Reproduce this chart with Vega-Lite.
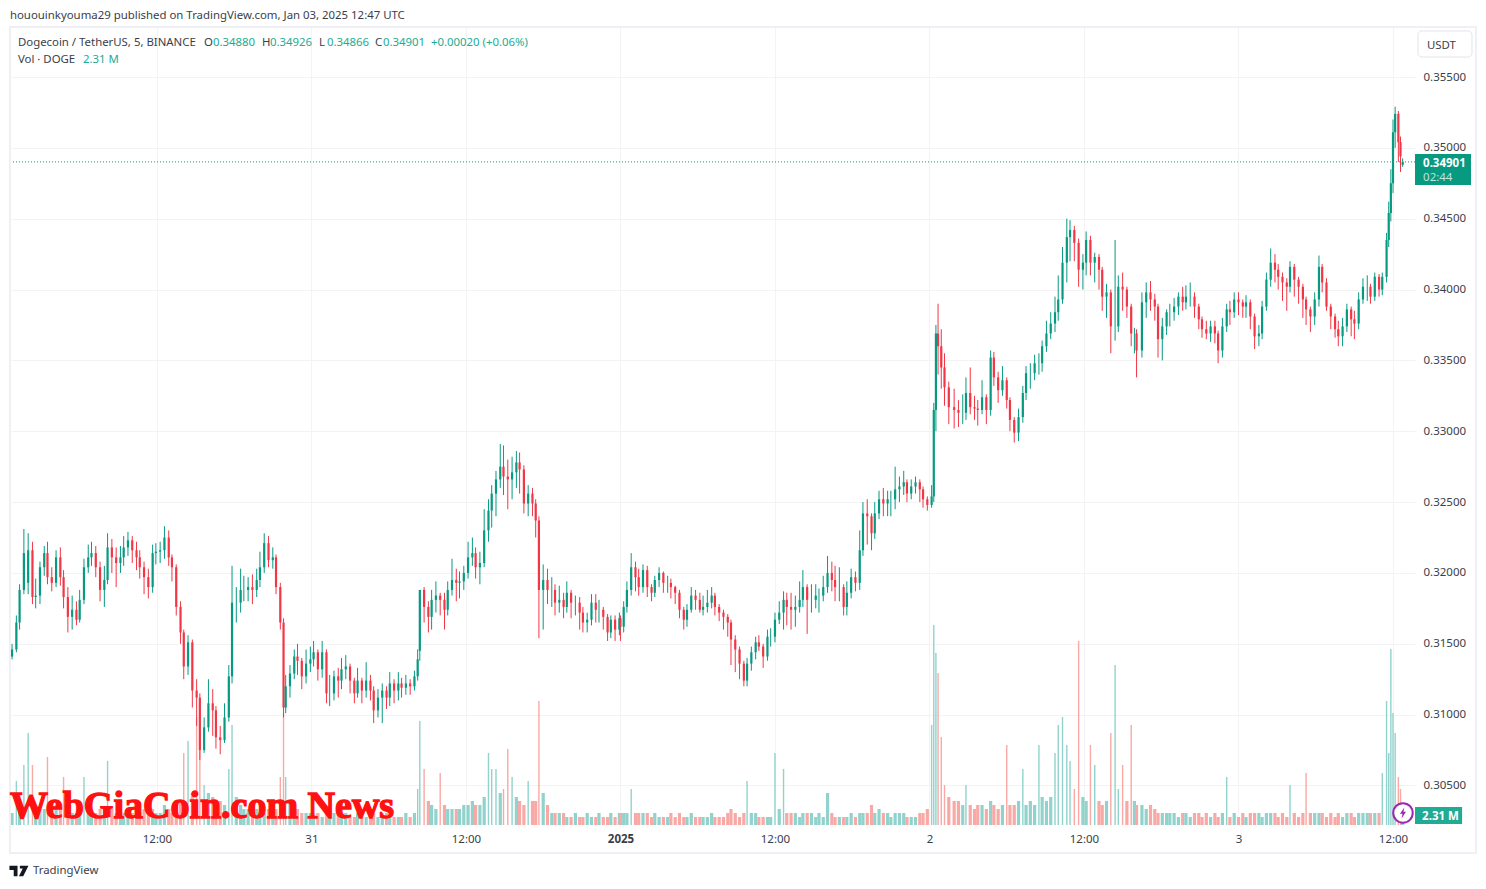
{"$schema":"https://vega.github.io/schema/vega-lite/v6.json","width":1404,"height":798,"autosize":{"type":"none"},"padding":{"left":11,"top":27,"right":71,"bottom":64},"background":"#ffffff","config":{"view":{"stroke":null},"text":{"font":"Noto Sans"}},
"datasets":{"candles":[
{"b":9,"o":0.3141,"h":0.3150,"l":0.3139,"c":0.3146,"v":3},
{"b":13,"o":0.3146,"h":0.3170,"l":0.3144,"c":0.3165,"v":11},
{"b":16,"o":0.3165,"h":0.3192,"l":0.3160,"c":0.3188,"v":6},
{"b":20,"o":0.3188,"h":0.3231,"l":0.3185,"c":0.3214,"v":15},
{"b":24,"o":0.3193,"h":0.3228,"l":0.3185,"c":0.3216,"v":23},
{"b":28,"o":0.3216,"h":0.3222,"l":0.3178,"c":0.3183,"v":15},
{"b":31,"o":0.3183,"h":0.3196,"l":0.3175,"c":0.3184,"v":5},
{"b":35,"o":0.3184,"h":0.3208,"l":0.3178,"c":0.3204,"v":4},
{"b":39,"o":0.3204,"h":0.3219,"l":0.3198,"c":0.3214,"v":4},
{"b":42,"o":0.3214,"h":0.3222,"l":0.3192,"c":0.3197,"v":17},
{"b":46,"o":0.3197,"h":0.3204,"l":0.3187,"c":0.3193,"v":4},
{"b":50,"o":0.3193,"h":0.3216,"l":0.3190,"c":0.3211,"v":5},
{"b":54,"o":0.3211,"h":0.3218,"l":0.3191,"c":0.3197,"v":4},
{"b":57,"o":0.3197,"h":0.3202,"l":0.3175,"c":0.3183,"v":12},
{"b":61,"o":0.3183,"h":0.3190,"l":0.3158,"c":0.3169,"v":5},
{"b":65,"o":0.3169,"h":0.3184,"l":0.3160,"c":0.3174,"v":3},
{"b":69,"o":0.3174,"h":0.3180,"l":0.3163,"c":0.3167,"v":3},
{"b":72,"o":0.3167,"h":0.3188,"l":0.3165,"c":0.3181,"v":3},
{"b":76,"o":0.3181,"h":0.3210,"l":0.3178,"c":0.3204,"v":12},
{"b":80,"o":0.3204,"h":0.3220,"l":0.3200,"c":0.3211,"v":4},
{"b":83,"o":0.3211,"h":0.3222,"l":0.3205,"c":0.3214,"v":4},
{"b":87,"o":0.3214,"h":0.3219,"l":0.3197,"c":0.3204,"v":3},
{"b":91,"o":0.3204,"h":0.3208,"l":0.3180,"c":0.3188,"v":4},
{"b":95,"o":0.3188,"h":0.3205,"l":0.3176,"c":0.3195,"v":4},
{"b":98,"o":0.3195,"h":0.3228,"l":0.3192,"c":0.3218,"v":16},
{"b":102,"o":0.3218,"h":0.3224,"l":0.3200,"c":0.3211,"v":4},
{"b":106,"o":0.3211,"h":0.3218,"l":0.3190,"c":0.3207,"v":3},
{"b":110,"o":0.3207,"h":0.3219,"l":0.3200,"c":0.3211,"v":4},
{"b":113,"o":0.3211,"h":0.3226,"l":0.3205,"c":0.3218,"v":3},
{"b":117,"o":0.3218,"h":0.3229,"l":0.3212,"c":0.3223,"v":4},
{"b":121,"o":0.3223,"h":0.3226,"l":0.3207,"c":0.3216,"v":3},
{"b":125,"o":0.3216,"h":0.3222,"l":0.3202,"c":0.3211,"v":4},
{"b":128,"o":0.3211,"h":0.3216,"l":0.3196,"c":0.3204,"v":3},
{"b":132,"o":0.3204,"h":0.3208,"l":0.3185,"c":0.3197,"v":4},
{"b":136,"o":0.3197,"h":0.3203,"l":0.3182,"c":0.3190,"v":3},
{"b":140,"o":0.3190,"h":0.3220,"l":0.3186,"c":0.3214,"v":4},
{"b":143,"o":0.3214,"h":0.3221,"l":0.3206,"c":0.3215,"v":3},
{"b":147,"o":0.3215,"h":0.3222,"l":0.3207,"c":0.3216,"v":3},
{"b":151,"o":0.3216,"h":0.3233,"l":0.3210,"c":0.3225,"v":5},
{"b":155,"o":0.3225,"h":0.3230,"l":0.3205,"c":0.3211,"v":4},
{"b":158,"o":0.3211,"h":0.3213,"l":0.3194,"c":0.3204,"v":3},
{"b":162,"o":0.3204,"h":0.3206,"l":0.3170,"c":0.3176,"v":5},
{"b":166,"o":0.3176,"h":0.3180,"l":0.3150,"c":0.3158,"v":6},
{"b":169,"o":0.3158,"h":0.3160,"l":0.3125,"c":0.3134,"v":18},
{"b":173,"o":0.3134,"h":0.3156,"l":0.3128,"c":0.3151,"v":21},
{"b":177,"o":0.3151,"h":0.3153,"l":0.3105,"c":0.3117,"v":8},
{"b":181,"o":0.3117,"h":0.3125,"l":0.3092,"c":0.3112,"v":27},
{"b":184,"o":0.3112,"h":0.3115,"l":0.3068,"c":0.3075,"v":23},
{"b":188,"o":0.3075,"h":0.3098,"l":0.3073,"c":0.3091,"v":10},
{"b":192,"o":0.3091,"h":0.3125,"l":0.3088,"c":0.3108,"v":8},
{"b":196,"o":0.3108,"h":0.3118,"l":0.3085,"c":0.3103,"v":7},
{"b":199,"o":0.3103,"h":0.3106,"l":0.3076,"c":0.3084,"v":6},
{"b":203,"o":0.3084,"h":0.3092,"l":0.3072,"c":0.3082,"v":6},
{"b":207,"o":0.3082,"h":0.3108,"l":0.3080,"c":0.3098,"v":5},
{"b":211,"o":0.3098,"h":0.3135,"l":0.3095,"c":0.3127,"v":14},
{"b":214,"o":0.3127,"h":0.3205,"l":0.3122,"c":0.3179,"v":25},
{"b":218,"o":0.3179,"h":0.3190,"l":0.3165,"c":0.3179,"v":7},
{"b":222,"o":0.3179,"h":0.3203,"l":0.3172,"c":0.3188,"v":5},
{"b":225,"o":0.3188,"h":0.3198,"l":0.3180,"c":0.3188,"v":4},
{"b":229,"o":0.3188,"h":0.3197,"l":0.3180,"c":0.3190,"v":4},
{"b":233,"o":0.3190,"h":0.3199,"l":0.3178,"c":0.3188,"v":4},
{"b":237,"o":0.3188,"h":0.3203,"l":0.3183,"c":0.3195,"v":4},
{"b":240,"o":0.3195,"h":0.3215,"l":0.3190,"c":0.3204,"v":3},
{"b":244,"o":0.3204,"h":0.3228,"l":0.3200,"c":0.3221,"v":3},
{"b":248,"o":0.3221,"h":0.3226,"l":0.3204,"c":0.3209,"v":4},
{"b":252,"o":0.3209,"h":0.3218,"l":0.3203,"c":0.3211,"v":3},
{"b":255,"o":0.3211,"h":0.3213,"l":0.3185,"c":0.3190,"v":4},
{"b":259,"o":0.3190,"h":0.3193,"l":0.3160,"c":0.3165,"v":12},
{"b":262,"o":0.3165,"h":0.3168,"l":0.3098,"c":0.3105,"v":28},
{"b":264,"o":0.3105,"h":0.3128,"l":0.3101,"c":0.3120,"v":12},
{"b":268,"o":0.3120,"h":0.3135,"l":0.3112,"c":0.3129,"v":6},
{"b":272,"o":0.3129,"h":0.3146,"l":0.3125,"c":0.3141,"v":5},
{"b":275,"o":0.3141,"h":0.3150,"l":0.3128,"c":0.3138,"v":4},
{"b":279,"o":0.3138,"h":0.3140,"l":0.3118,"c":0.3127,"v":3},
{"b":283,"o":0.3127,"h":0.3146,"l":0.3122,"c":0.3136,"v":3},
{"b":287,"o":0.3136,"h":0.3148,"l":0.3130,"c":0.3139,"v":3},
{"b":290,"o":0.3139,"h":0.3152,"l":0.3134,"c":0.3144,"v":3},
{"b":294,"o":0.3144,"h":0.3146,"l":0.3124,"c":0.3132,"v":3},
{"b":298,"o":0.3132,"h":0.3152,"l":0.3126,"c":0.3144,"v":2},
{"b":302,"o":0.3144,"h":0.3146,"l":0.3108,"c":0.3115,"v":3},
{"b":305,"o":0.3115,"h":0.3128,"l":0.3106,"c":0.3115,"v":4},
{"b":309,"o":0.3115,"h":0.3131,"l":0.3110,"c":0.3127,"v":3},
{"b":313,"o":0.3127,"h":0.3133,"l":0.3112,"c":0.3124,"v":3},
{"b":316,"o":0.3124,"h":0.3140,"l":0.3118,"c":0.3132,"v":2},
{"b":320,"o":0.3132,"h":0.3142,"l":0.3125,"c":0.3134,"v":3},
{"b":324,"o":0.3134,"h":0.3136,"l":0.3115,"c":0.3124,"v":2},
{"b":328,"o":0.3124,"h":0.3126,"l":0.3108,"c":0.3115,"v":2},
{"b":331,"o":0.3115,"h":0.3133,"l":0.3112,"c":0.3124,"v":3},
{"b":335,"o":0.3124,"h":0.3126,"l":0.3108,"c":0.3117,"v":2},
{"b":339,"o":0.3117,"h":0.3137,"l":0.3112,"c":0.3124,"v":2},
{"b":343,"o":0.3124,"h":0.3128,"l":0.3110,"c":0.3117,"v":3},
{"b":346,"o":0.3117,"h":0.3120,"l":0.3094,"c":0.3103,"v":3},
{"b":350,"o":0.3103,"h":0.3118,"l":0.3098,"c":0.3112,"v":2},
{"b":354,"o":0.3112,"h":0.3122,"l":0.3094,"c":0.3117,"v":3},
{"b":358,"o":0.3117,"h":0.3120,"l":0.3104,"c":0.3112,"v":3},
{"b":361,"o":0.3112,"h":0.3130,"l":0.3106,"c":0.3122,"v":2},
{"b":365,"o":0.3122,"h":0.3125,"l":0.3108,"c":0.3117,"v":2},
{"b":369,"o":0.3117,"h":0.3130,"l":0.3110,"c":0.3122,"v":2},
{"b":372,"o":0.3122,"h":0.3126,"l":0.3112,"c":0.3119,"v":2},
{"b":376,"o":0.3119,"h":0.3128,"l":0.3114,"c":0.3122,"v":3},
{"b":380,"o":0.3122,"h":0.3125,"l":0.3114,"c":0.3120,"v":2},
{"b":384,"o":0.3120,"h":0.3131,"l":0.3117,"c":0.3127,"v":3},
{"b":387,"o":0.3127,"h":0.3146,"l":0.3124,"c":0.3139,"v":9},
{"b":389,"o":0.3145,"h":0.3188,"l":0.3138,"c":0.3188,"v":26},
{"b":393,"o":0.3188,"h":0.3190,"l":0.3165,"c":0.3176,"v":14},
{"b":397,"o":0.3176,"h":0.3180,"l":0.3158,"c":0.3169,"v":6},
{"b":400,"o":0.3169,"h":0.3188,"l":0.3160,"c":0.3181,"v":5},
{"b":404,"o":0.3181,"h":0.3194,"l":0.3172,"c":0.3184,"v":4},
{"b":408,"o":0.3184,"h":0.3186,"l":0.3170,"c":0.3181,"v":13},
{"b":412,"o":0.3181,"h":0.3186,"l":0.3160,"c":0.3174,"v":5},
{"b":415,"o":0.3174,"h":0.3194,"l":0.3170,"c":0.3188,"v":4},
{"b":419,"o":0.3188,"h":0.3210,"l":0.3184,"c":0.3195,"v":4},
{"b":423,"o":0.3195,"h":0.3203,"l":0.3180,"c":0.3193,"v":4},
{"b":426,"o":0.3193,"h":0.3201,"l":0.3182,"c":0.3194,"v":4},
{"b":430,"o":0.3194,"h":0.3205,"l":0.3188,"c":0.3200,"v":5},
{"b":434,"o":0.3200,"h":0.3222,"l":0.3196,"c":0.3211,"v":5},
{"b":438,"o":0.3211,"h":0.3225,"l":0.3205,"c":0.3214,"v":6},
{"b":441,"o":0.3214,"h":0.3218,"l":0.3196,"c":0.3204,"v":5},
{"b":445,"o":0.3204,"h":0.3215,"l":0.3192,"c":0.3207,"v":5},
{"b":449,"o":0.3207,"h":0.3245,"l":0.3204,"c":0.3230,"v":7},
{"b":453,"o":0.3230,"h":0.3252,"l":0.3222,"c":0.3244,"v":18},
{"b":456,"o":0.3244,"h":0.3262,"l":0.3232,"c":0.3256,"v":14},
{"b":460,"o":0.3256,"h":0.3272,"l":0.3240,"c":0.3266,"v":14},
{"b":464,"o":0.3266,"h":0.3291,"l":0.3260,"c":0.3275,"v":8},
{"b":467,"o":0.3275,"h":0.3290,"l":0.3255,"c":0.3268,"v":9},
{"b":471,"o":0.3268,"h":0.3280,"l":0.3245,"c":0.3266,"v":19},
{"b":475,"o":0.3266,"h":0.3282,"l":0.3252,"c":0.3271,"v":12},
{"b":479,"o":0.3271,"h":0.3286,"l":0.3260,"c":0.3278,"v":7},
{"b":482,"o":0.3278,"h":0.3285,"l":0.3256,"c":0.3273,"v":6},
{"b":486,"o":0.3273,"h":0.3276,"l":0.3242,"c":0.3249,"v":5},
{"b":490,"o":0.3249,"h":0.3262,"l":0.3240,"c":0.3256,"v":11},
{"b":494,"o":0.3256,"h":0.3260,"l":0.3240,"c":0.3249,"v":6},
{"b":497,"o":0.3249,"h":0.3252,"l":0.3225,"c":0.3237,"v":6},
{"b":500,"o":0.3237,"h":0.3240,"l":0.3154,"c":0.3188,"v":31},
{"b":504,"o":0.3188,"h":0.3206,"l":0.3160,"c":0.3195,"v":8},
{"b":508,"o":0.3195,"h":0.3203,"l":0.3178,"c":0.3188,"v":5},
{"b":512,"o":0.3188,"h":0.3197,"l":0.3176,"c":0.3188,"v":3},
{"b":515,"o":0.3188,"h":0.3192,"l":0.3170,"c":0.3179,"v":3},
{"b":519,"o":0.3179,"h":0.3191,"l":0.3172,"c":0.3181,"v":3},
{"b":523,"o":0.3181,"h":0.3186,"l":0.3168,"c":0.3176,"v":3},
{"b":526,"o":0.3176,"h":0.3194,"l":0.3172,"c":0.3186,"v":2},
{"b":530,"o":0.3186,"h":0.3188,"l":0.3168,"c":0.3179,"v":2},
{"b":534,"o":0.3179,"h":0.3184,"l":0.3170,"c":0.3179,"v":3},
{"b":538,"o":0.3179,"h":0.3183,"l":0.3160,"c":0.3172,"v":2},
{"b":541,"o":0.3172,"h":0.3176,"l":0.3158,"c":0.3165,"v":2},
{"b":545,"o":0.3165,"h":0.3172,"l":0.3158,"c":0.3167,"v":3},
{"b":549,"o":0.3167,"h":0.3185,"l":0.3163,"c":0.3179,"v":2},
{"b":553,"o":0.3179,"h":0.3185,"l":0.3165,"c":0.3174,"v":2},
{"b":556,"o":0.3174,"h":0.3181,"l":0.3165,"c":0.3174,"v":3},
{"b":560,"o":0.3174,"h":0.3176,"l":0.3160,"c":0.3169,"v":2},
{"b":564,"o":0.3169,"h":0.3171,"l":0.3152,"c":0.3158,"v":2},
{"b":567,"o":0.3158,"h":0.3170,"l":0.3154,"c":0.3167,"v":3},
{"b":571,"o":0.3167,"h":0.3170,"l":0.3152,"c":0.3160,"v":2},
{"b":575,"o":0.3160,"h":0.3172,"l":0.3156,"c":0.3168,"v":3},
{"b":576,"o":0.3168,"h":0.3170,"l":0.3152,"c":0.3162,"v":3},
{"b":579,"o":0.3162,"h":0.3180,"l":0.3158,"c":0.3176,"v":3},
{"b":582,"o":0.3176,"h":0.3194,"l":0.3172,"c":0.3188,"v":3},
{"b":586,"o":0.3188,"h":0.3214,"l":0.3184,"c":0.3204,"v":9},
{"b":590,"o":0.3204,"h":0.3208,"l":0.3187,"c":0.3197,"v":3},
{"b":593,"o":0.3197,"h":0.3203,"l":0.3184,"c":0.3190,"v":3},
{"b":597,"o":0.3190,"h":0.3206,"l":0.3186,"c":0.3202,"v":3},
{"b":601,"o":0.3202,"h":0.3205,"l":0.3183,"c":0.3190,"v":3},
{"b":605,"o":0.3190,"h":0.3192,"l":0.3180,"c":0.3186,"v":2},
{"b":608,"o":0.3186,"h":0.3198,"l":0.3183,"c":0.3195,"v":3},
{"b":612,"o":0.3195,"h":0.3204,"l":0.3190,"c":0.3200,"v":2},
{"b":616,"o":0.3200,"h":0.3201,"l":0.3186,"c":0.3193,"v":2},
{"b":620,"o":0.3193,"h":0.3198,"l":0.3186,"c":0.3193,"v":2},
{"b":623,"o":0.3193,"h":0.3196,"l":0.3182,"c":0.3190,"v":3},
{"b":627,"o":0.3190,"h":0.3191,"l":0.3178,"c":0.3186,"v":2},
{"b":631,"o":0.3186,"h":0.3188,"l":0.3168,"c":0.3174,"v":3},
{"b":635,"o":0.3174,"h":0.3176,"l":0.3160,"c":0.3167,"v":2},
{"b":638,"o":0.3167,"h":0.3178,"l":0.3162,"c":0.3174,"v":2},
{"b":642,"o":0.3174,"h":0.3190,"l":0.3172,"c":0.3184,"v":3},
{"b":646,"o":0.3184,"h":0.3188,"l":0.3174,"c":0.3181,"v":2},
{"b":650,"o":0.3181,"h":0.3186,"l":0.3172,"c":0.3174,"v":2},
{"b":653,"o":0.3174,"h":0.3184,"l":0.3170,"c":0.3176,"v":2},
{"b":657,"o":0.3176,"h":0.3188,"l":0.3172,"c":0.3179,"v":2},
{"b":661,"o":0.3179,"h":0.3190,"l":0.3175,"c":0.3184,"v":3},
{"b":664,"o":0.3184,"h":0.3186,"l":0.3170,"c":0.3176,"v":2},
{"b":668,"o":0.3176,"h":0.3178,"l":0.3166,"c":0.3172,"v":2},
{"b":672,"o":0.3172,"h":0.3174,"l":0.3160,"c":0.3169,"v":2},
{"b":676,"o":0.3169,"h":0.3171,"l":0.3155,"c":0.3165,"v":3},
{"b":679,"o":0.3165,"h":0.3167,"l":0.3135,"c":0.3153,"v":4},
{"b":683,"o":0.3153,"h":0.3156,"l":0.3130,"c":0.3146,"v":3},
{"b":687,"o":0.3146,"h":0.3148,"l":0.3125,"c":0.3136,"v":2},
{"b":691,"o":0.3136,"h":0.3138,"l":0.3120,"c":0.3124,"v":3},
{"b":694,"o":0.3124,"h":0.3140,"l":0.3120,"c":0.3136,"v":11},
{"b":698,"o":0.3136,"h":0.3148,"l":0.3131,"c":0.3144,"v":3},
{"b":702,"o":0.3144,"h":0.3155,"l":0.3139,"c":0.3151,"v":3},
{"b":705,"o":0.3151,"h":0.3156,"l":0.3145,"c":0.3148,"v":2},
{"b":709,"o":0.3148,"h":0.3150,"l":0.3133,"c":0.3141,"v":2},
{"b":713,"o":0.3141,"h":0.3160,"l":0.3138,"c":0.3155,"v":2},
{"b":716,"o":0.3155,"h":0.3161,"l":0.3148,"c":0.3155,"v":2},
{"b":720,"o":0.3155,"h":0.3172,"l":0.3151,"c":0.3167,"v":18},
{"b":724,"o":0.3167,"h":0.3180,"l":0.3164,"c":0.3172,"v":4},
{"b":728,"o":0.3172,"h":0.3187,"l":0.3160,"c":0.3181,"v":14},
{"b":731,"o":0.3181,"h":0.3186,"l":0.3163,"c":0.3176,"v":3},
{"b":735,"o":0.3176,"h":0.3186,"l":0.3160,"c":0.3174,"v":3},
{"b":739,"o":0.3174,"h":0.3184,"l":0.3162,"c":0.3176,"v":3},
{"b":743,"o":0.3176,"h":0.3194,"l":0.3172,"c":0.3181,"v":2},
{"b":746,"o":0.3181,"h":0.3202,"l":0.3176,"c":0.3190,"v":3},
{"b":750,"o":0.3190,"h":0.3192,"l":0.3157,"c":0.3181,"v":3},
{"b":754,"o":0.3181,"h":0.3192,"l":0.3172,"c":0.3181,"v":3},
{"b":758,"o":0.3181,"h":0.3192,"l":0.3175,"c":0.3184,"v":2},
{"b":761,"o":0.3184,"h":0.3189,"l":0.3172,"c":0.3184,"v":3},
{"b":765,"o":0.3184,"h":0.3198,"l":0.3180,"c":0.3190,"v":2},
{"b":769,"o":0.3190,"h":0.3212,"l":0.3186,"c":0.3200,"v":8},
{"b":773,"o":0.3200,"h":0.3208,"l":0.3187,"c":0.3195,"v":3},
{"b":776,"o":0.3195,"h":0.3205,"l":0.3180,"c":0.3190,"v":2},
{"b":780,"o":0.3190,"h":0.3204,"l":0.3180,"c":0.3190,"v":2},
{"b":784,"o":0.3190,"h":0.3192,"l":0.3170,"c":0.3176,"v":2},
{"b":787,"o":0.3176,"h":0.3194,"l":0.3170,"c":0.3186,"v":2},
{"b":791,"o":0.3186,"h":0.3203,"l":0.3182,"c":0.3197,"v":3},
{"b":795,"o":0.3197,"h":0.3201,"l":0.3187,"c":0.3193,"v":2},
{"b":799,"o":0.3193,"h":0.3230,"l":0.3188,"c":0.3216,"v":3},
{"b":802,"o":0.3216,"h":0.3250,"l":0.3212,"c":0.3242,"v":3},
{"b":806,"o":0.3242,"h":0.3252,"l":0.3220,"c":0.3240,"v":3},
{"b":810,"o":0.3240,"h":0.3242,"l":0.3216,"c":0.3228,"v":5},
{"b":813,"o":0.3228,"h":0.3250,"l":0.3224,"c":0.3242,"v":3},
{"b":817,"o":0.3242,"h":0.3258,"l":0.3238,"c":0.3252,"v":4},
{"b":821,"o":0.3252,"h":0.3260,"l":0.3240,"c":0.3249,"v":3},
{"b":825,"o":0.3249,"h":0.3258,"l":0.3240,"c":0.3252,"v":3},
{"b":828,"o":0.3252,"h":0.3258,"l":0.3240,"c":0.3252,"v":2},
{"b":832,"o":0.3252,"h":0.3275,"l":0.3245,"c":0.3259,"v":3},
{"b":836,"o":0.3259,"h":0.3268,"l":0.3250,"c":0.3261,"v":3},
{"b":840,"o":0.3261,"h":0.3272,"l":0.3255,"c":0.3264,"v":3},
{"b":843,"o":0.3264,"h":0.3266,"l":0.3250,"c":0.3256,"v":2},
{"b":847,"o":0.3256,"h":0.3266,"l":0.3252,"c":0.3261,"v":2},
{"b":851,"o":0.3261,"h":0.3268,"l":0.3256,"c":0.3264,"v":2},
{"b":855,"o":0.3264,"h":0.3266,"l":0.3250,"c":0.3259,"v":3},
{"b":858,"o":0.3259,"h":0.3261,"l":0.3246,"c":0.3252,"v":3},
{"b":862,"o":0.3252,"h":0.3254,"l":0.3244,"c":0.3248,"v":4},
{"b":866,"o":0.3248,"h":0.3262,"l":0.3246,"c":0.3254,"v":25},
{"b":868,"o":0.3254,"h":0.3320,"l":0.3250,"c":0.3315,"v":50},
{"b":870,"o":0.3315,"h":0.3375,"l":0.3300,"c":0.3369,"v":43},
{"b":872,"o":0.3369,"h":0.3390,"l":0.3340,"c":0.3360,"v":38},
{"b":875,"o":0.3360,"h":0.3372,"l":0.3330,"c":0.3345,"v":22},
{"b":878,"o":0.3345,"h":0.3355,"l":0.3318,"c":0.3331,"v":10},
{"b":882,"o":0.3331,"h":0.3335,"l":0.3305,"c":0.3317,"v":7},
{"b":887,"o":0.3317,"h":0.3330,"l":0.3302,"c":0.3315,"v":6},
{"b":891,"o":0.3315,"h":0.3322,"l":0.3303,"c":0.3313,"v":6},
{"b":895,"o":0.3313,"h":0.3326,"l":0.3305,"c":0.3313,"v":5},
{"b":898,"o":0.3313,"h":0.3338,"l":0.3308,"c":0.3327,"v":10},
{"b":902,"o":0.3327,"h":0.3345,"l":0.3312,"c":0.3317,"v":5},
{"b":906,"o":0.3317,"h":0.3325,"l":0.3308,"c":0.3316,"v":4},
{"b":909,"o":0.3316,"h":0.3322,"l":0.3304,"c":0.3315,"v":5},
{"b":913,"o":0.3315,"h":0.3336,"l":0.3312,"c":0.3324,"v":5},
{"b":917,"o":0.3324,"h":0.3326,"l":0.3305,"c":0.3315,"v":4},
{"b":921,"o":0.3315,"h":0.3357,"l":0.3311,"c":0.3352,"v":6},
{"b":924,"o":0.3352,"h":0.3356,"l":0.3332,"c":0.3338,"v":5},
{"b":928,"o":0.3338,"h":0.3342,"l":0.3320,"c":0.3329,"v":4},
{"b":932,"o":0.3329,"h":0.3346,"l":0.3325,"c":0.3336,"v":5},
{"b":936,"o":0.3336,"h":0.3338,"l":0.3316,"c":0.3322,"v":20},
{"b":939,"o":0.3322,"h":0.3324,"l":0.3300,"c":0.3308,"v":5},
{"b":943,"o":0.3308,"h":0.3310,"l":0.3292,"c":0.3299,"v":5},
{"b":947,"o":0.3299,"h":0.3316,"l":0.3293,"c":0.3310,"v":6},
{"b":951,"o":0.3310,"h":0.3332,"l":0.3306,"c":0.3327,"v":14},
{"b":954,"o":0.3327,"h":0.3346,"l":0.3322,"c":0.3341,"v":5},
{"b":958,"o":0.3341,"h":0.3348,"l":0.3330,"c":0.3341,"v":6},
{"b":962,"o":0.3341,"h":0.3354,"l":0.3336,"c":0.3348,"v":5},
{"b":966,"o":0.3348,"h":0.3355,"l":0.3340,"c":0.3348,"v":20},
{"b":969,"o":0.3348,"h":0.3364,"l":0.3342,"c":0.3360,"v":7},
{"b":973,"o":0.3360,"h":0.3378,"l":0.3356,"c":0.3369,"v":6},
{"b":977,"o":0.3369,"h":0.3384,"l":0.3365,"c":0.3376,"v":7},
{"b":981,"o":0.3376,"h":0.3395,"l":0.3370,"c":0.3384,"v":18},
{"b":984,"o":0.3384,"h":0.3410,"l":0.3378,"c":0.3393,"v":25},
{"b":988,"o":0.3393,"h":0.3430,"l":0.3390,"c":0.3419,"v":27},
{"b":992,"o":0.3419,"h":0.3450,"l":0.3405,"c":0.3437,"v":20},
{"b":995,"o":0.3437,"h":0.3449,"l":0.3420,"c":0.3442,"v":16},
{"b":999,"o":0.3442,"h":0.3445,"l":0.3420,"c":0.3433,"v":9},
{"b":1003,"o":0.3433,"h":0.3436,"l":0.3402,"c":0.3414,"v":46},
{"b":1007,"o":0.3414,"h":0.3425,"l":0.3400,"c":0.3419,"v":7},
{"b":1010,"o":0.3419,"h":0.3441,"l":0.3410,"c":0.3435,"v":6},
{"b":1014,"o":0.3435,"h":0.3438,"l":0.3410,"c":0.3419,"v":20},
{"b":1018,"o":0.3419,"h":0.3426,"l":0.3405,"c":0.3423,"v":15},
{"b":1022,"o":0.3423,"h":0.3425,"l":0.3400,"c":0.3414,"v":6},
{"b":1025,"o":0.3414,"h":0.3416,"l":0.3385,"c":0.3395,"v":5},
{"b":1029,"o":0.3395,"h":0.3404,"l":0.3380,"c":0.3398,"v":6},
{"b":1033,"o":0.3398,"h":0.3400,"l":0.3355,"c":0.3374,"v":23},
{"b":1037,"o":0.3374,"h":0.3435,"l":0.3364,"c":0.3374,"v":40},
{"b":1040,"o":0.3374,"h":0.3410,"l":0.3370,"c":0.3402,"v":9},
{"b":1044,"o":0.3402,"h":0.3412,"l":0.3385,"c":0.3400,"v":15},
{"b":1048,"o":0.3400,"h":0.3402,"l":0.3380,"c":0.3388,"v":6},
{"b":1052,"o":0.3388,"h":0.3390,"l":0.3360,"c":0.3369,"v":25},
{"b":1055,"o":0.3369,"h":0.3373,"l":0.3355,"c":0.3369,"v":6},
{"b":1057,"o":0.3369,"h":0.3372,"l":0.3338,"c":0.3357,"v":5},
{"b":1062,"o":0.3357,"h":0.3398,"l":0.3352,"c":0.3391,"v":5},
{"b":1066,"o":0.3391,"h":0.3405,"l":0.3380,"c":0.3398,"v":4},
{"b":1070,"o":0.3398,"h":0.3406,"l":0.3385,"c":0.3393,"v":5},
{"b":1074,"o":0.3393,"h":0.3397,"l":0.3378,"c":0.3388,"v":4},
{"b":1077,"o":0.3388,"h":0.3390,"l":0.3352,"c":0.3365,"v":3},
{"b":1081,"o":0.3365,"h":0.3380,"l":0.3350,"c":0.3374,"v":3},
{"b":1085,"o":0.3374,"h":0.3386,"l":0.3368,"c":0.3384,"v":3},
{"b":1088,"o":0.3384,"h":0.3390,"l":0.3374,"c":0.3384,"v":3},
{"b":1092,"o":0.3384,"h":0.3394,"l":0.3378,"c":0.3388,"v":3},
{"b":1096,"o":0.3388,"h":0.3398,"l":0.3382,"c":0.3395,"v":2},
{"b":1100,"o":0.3395,"h":0.3402,"l":0.3385,"c":0.3391,"v":3},
{"b":1103,"o":0.3391,"h":0.3403,"l":0.3386,"c":0.3395,"v":3},
{"b":1107,"o":0.3395,"h":0.3405,"l":0.3388,"c":0.3395,"v":2},
{"b":1111,"o":0.3395,"h":0.3398,"l":0.3380,"c":0.3388,"v":3},
{"b":1115,"o":0.3388,"h":0.3390,"l":0.3372,"c":0.3379,"v":3},
{"b":1118,"o":0.3379,"h":0.3381,"l":0.3366,"c":0.3372,"v":2},
{"b":1122,"o":0.3372,"h":0.3378,"l":0.3365,"c":0.3369,"v":3},
{"b":1126,"o":0.3369,"h":0.3378,"l":0.3363,"c":0.3374,"v":2},
{"b":1130,"o":0.3374,"h":0.3378,"l":0.3362,"c":0.3369,"v":3},
{"b":1133,"o":0.3369,"h":0.3371,"l":0.3348,"c":0.3357,"v":2},
{"b":1137,"o":0.3357,"h":0.3380,"l":0.3352,"c":0.3374,"v":3},
{"b":1141,"o":0.3374,"h":0.3390,"l":0.3370,"c":0.3386,"v":12},
{"b":1144,"o":0.3386,"h":0.3392,"l":0.3375,"c":0.3384,"v":2},
{"b":1148,"o":0.3384,"h":0.3398,"l":0.3380,"c":0.3393,"v":3},
{"b":1152,"o":0.3393,"h":0.3398,"l":0.3382,"c":0.3391,"v":2},
{"b":1156,"o":0.3391,"h":0.3393,"l":0.3380,"c":0.3388,"v":3},
{"b":1159,"o":0.3388,"h":0.3396,"l":0.3380,"c":0.3391,"v":2},
{"b":1163,"o":0.3391,"h":0.3393,"l":0.3372,"c":0.3381,"v":3},
{"b":1167,"o":0.3381,"h":0.3383,"l":0.3358,"c":0.3367,"v":3},
{"b":1171,"o":0.3367,"h":0.3375,"l":0.3360,"c":0.3369,"v":3},
{"b":1174,"o":0.3369,"h":0.3392,"l":0.3365,"c":0.3388,"v":2},
{"b":1178,"o":0.3388,"h":0.3412,"l":0.3385,"c":0.3407,"v":3},
{"b":1182,"o":0.3407,"h":0.3429,"l":0.3402,"c":0.3419,"v":3},
{"b":1186,"o":0.3419,"h":0.3425,"l":0.3405,"c":0.3414,"v":3},
{"b":1189,"o":0.3414,"h":0.3418,"l":0.3400,"c":0.3409,"v":2},
{"b":1193,"o":0.3409,"h":0.3412,"l":0.3392,"c":0.3405,"v":3},
{"b":1197,"o":0.3405,"h":0.3408,"l":0.3385,"c":0.3402,"v":2},
{"b":1200,"o":0.3402,"h":0.3420,"l":0.3398,"c":0.3416,"v":10},
{"b":1204,"o":0.3416,"h":0.3418,"l":0.3395,"c":0.3407,"v":3},
{"b":1208,"o":0.3407,"h":0.3409,"l":0.3390,"c":0.3402,"v":2},
{"b":1212,"o":0.3402,"h":0.3404,"l":0.3380,"c":0.3393,"v":3},
{"b":1215,"o":0.3393,"h":0.3395,"l":0.3375,"c":0.3386,"v":13},
{"b":1219,"o":0.3386,"h":0.3388,"l":0.3370,"c":0.3381,"v":3},
{"b":1223,"o":0.3381,"h":0.3398,"l":0.3375,"c":0.3393,"v":3},
{"b":1227,"o":0.3393,"h":0.3424,"l":0.3388,"c":0.3416,"v":3},
{"b":1230,"o":0.3416,"h":0.3418,"l":0.3398,"c":0.3405,"v":3},
{"b":1234,"o":0.3405,"h":0.3408,"l":0.3385,"c":0.3388,"v":2},
{"b":1238,"o":0.3388,"h":0.3390,"l":0.3372,"c":0.3381,"v":3},
{"b":1242,"o":0.3381,"h":0.3383,"l":0.3366,"c":0.3372,"v":2},
{"b":1245,"o":0.3372,"h":0.3378,"l":0.3360,"c":0.3367,"v":3},
{"b":1249,"o":0.3367,"h":0.3380,"l":0.3360,"c":0.3374,"v":2},
{"b":1253,"o":0.3374,"h":0.3390,"l":0.3370,"c":0.3386,"v":3},
{"b":1257,"o":0.3386,"h":0.3388,"l":0.3367,"c":0.3379,"v":3},
{"b":1260,"o":0.3379,"h":0.3385,"l":0.3365,"c":0.3376,"v":2},
{"b":1264,"o":0.3376,"h":0.3398,"l":0.3372,"c":0.3393,"v":3},
{"b":1268,"o":0.3393,"h":0.3408,"l":0.3390,"c":0.3402,"v":3},
{"b":1272,"o":0.3402,"h":0.3410,"l":0.3392,"c":0.3402,"v":3},
{"b":1275,"o":0.3402,"h":0.3404,"l":0.3390,"c":0.3395,"v":3},
{"b":1279,"o":0.3395,"h":0.3412,"l":0.3392,"c":0.3409,"v":3},
{"b":1283,"o":0.3409,"h":0.3411,"l":0.3395,"c":0.3400,"v":3},
{"b":1286,"o":0.3400,"h":0.3412,"l":0.3396,"c":0.3409,"v":13},
{"b":1290,"o":0.3409,"h":0.3440,"l":0.3405,"c":0.3435,"v":31},
{"b":1292,"o":0.3435,"h":0.3462,"l":0.3430,"c":0.3454,"v":18},
{"b":1294,"o":0.3454,"h":0.3485,"l":0.3448,"c":0.3475,"v":44},
{"b":1296,"o":0.3475,"h":0.3520,"l":0.3468,"c":0.3511,"v":28},
{"b":1298,"o":0.3511,"h":0.3529,"l":0.3500,"c":0.3524,"v":23},
{"b":1301,"o":0.3524,"h":0.3526,"l":0.3490,"c":0.3504,"v":12},
{"b":1303,"o":0.3504,"h":0.3508,"l":0.3483,"c":0.3494,"v":9},
{"b":1305,"o":0.3488,"h":0.34926,"l":0.34866,"c":0.34901,"v":2.31}
],
"boxes":[{"b1":7,"b2":1373.4,"p1":0.35853,"p2":0.30024}],
"usdt":[{"b1":1319.3,"b2":1369.6,"p1":0.35825,"p2":0.35641}],
"priceTag":[{"b1":1316.5,"b2":1368.7,"p1":0.34957,"p2":0.34738}],
"volTag":[{"b1":1316.5,"b2":1360.4,"p1":0.30348,"p2":0.30228}],
"last":[{"p":0.34901}],
"darkText":[
{"b":7,"p":0.35931,"t":"hououinkyouma29 published on TradingView.com, Jan 03, 2025 12:47 UTC"},
{"b":14.45,"p":0.3574,"t":"Dogecoin / TetherUS, 5, BINANCE"},
{"b":187.8,"p":0.3574,"t":"O"},{"b":241.9,"p":0.3574,"t":"H"},{"b":295,"p":0.3574,"t":"L"},{"b":347.2,"p":0.3574,"t":"C"},
{"b":14.45,"p":0.3562,"t":"Vol · DOGE"},
{"b":1327.7,"p":0.35719,"t":"USDT"},
{"b":28.4,"p":0.29897,"t":"TradingView"}],
"greenText":[
{"b":196.2,"p":0.3574,"t":"0.34880"},{"b":249.3,"p":0.3574,"t":"0.34926"},{"b":302.5,"p":0.3574,"t":"0.34866"},{"b":354.6,"p":0.3574,"t":"0.34901"},{"b":399.4,"p":0.3574,"t":"+0.00020 (+0.06%)"},{"b":75,"p":0.3562,"t":"2.31 M"}],
"whiteText":[{"b":1324,"p":0.34886,"t":"0.34901"},{"b":1323.1,"p":0.30278,"t":"2.31 M"}],
"timer":[{"b":1324,"p":0.34787,"t":"02:44"}],
"wm":[{"b":7,"p":0.3027,"t":"WebGiaCoin.com News"}],
"bolt":[{"b":1305.3,"p":0.30306}],
"logo":[{"b":15.4,"p":0.29897}]
},
"resolve":{"scale":{"y":"independent"}},
"layer":[
{"data":{"name":"candles"},"mark":{"type":"rule"},"encoding":{
"x":{"field":"b","type":"quantitative","scale":{"domain":[8,1316.5],"nice":false,"zero":false},"title":null,"axis":{"orient":"bottom","values":[144,288,432,576,720,864,1008,1152,1296],"labelExpr":"datum.value==288?'31':datum.value==576?'2025':datum.value==864?'2':datum.value==1152?'3':'12:00'","labelFontWeight":{"expr":"datum.value==576?'bold':'normal'"},"labelFont":"Noto Sans","labelFontSize":11.5,"labelColor":"#3a3e4a","labelPadding":8,"ticks":false,"domain":false,"grid":true,"gridColor":"#f3f3f5","gridWidth":1,"labelFlush":false}},
"y":{"field":"v","type":"quantitative","stack":null,"scale":{"domain":[0,199.5],"nice":false,"zero":false},"axis":null},
"y2":{"datum":0},
"strokeWidth":{"condition":{"test":"datum.v>=9","value":1.4},"value":3.2},
"color":{"condition":{"test":"datum.c>=datum.o","value":"#92d2cc"},"value":"#f8a9a5"}}},
{"data":{"values":[{"p":0.355},{"p":0.35},{"p":0.345},{"p":0.34},{"p":0.335},{"p":0.33},{"p":0.325},{"p":0.32},{"p":0.315},{"p":0.31},{"p":0.305}]},"mark":{"type":"rule","opacity":0},"encoding":{
"y":{"field":"p","type":"quantitative","scale":{"domain":[0.30221,0.35853],"nice":false,"zero":false},"title":null,"axis":{"orient":"right","values":[0.355,0.35,0.345,0.34,0.335,0.33,0.325,0.32,0.315,0.31,0.305],"format":".5f","labelFont":"Noto Sans","labelFontSize":11.5,"labelColor":"#3a3e4a","labelPadding":8,"ticks":false,"domain":false,"grid":true,"gridColor":"#f3f3f5","gridWidth":1}}}},
{"data":{"name":"candles"},"mark":{"type":"rule","strokeWidth":1},"encoding":{
"x":{"field":"b","type":"quantitative"},
"y":{"field":"l","type":"quantitative","scale":{"domain":[0.30221,0.35853],"nice":false,"zero":false},"axis":null},"y2":{"field":"h"},
"color":{"condition":{"test":"datum.c>=datum.o","value":"#089981"},"value":"#f23645"}}},
{"data":{"name":"candles"},"mark":{"type":"rule","strokeWidth":2.2},"encoding":{
"x":{"field":"b","type":"quantitative"},
"y":{"field":"o","type":"quantitative","scale":{"domain":[0.30221,0.35853],"nice":false,"zero":false},"axis":null},"y2":{"field":"c"},
"color":{"condition":{"test":"datum.c>=datum.o","value":"#089981"},"value":"#f23645"}}},
{"data":{"name":"last"},"mark":{"type":"rule","color":"#089981","strokeWidth":1,"strokeDash":[1,2]},"encoding":{
"y":{"field":"p","type":"quantitative","scale":{"domain":[0.30221,0.35853],"nice":false,"zero":false},"axis":null}}},
{"data":{"name":"boxes"},"mark":{"type":"rect","fillOpacity":0,"stroke":"#eff0f5","strokeWidth":2},"encoding":{
"x":{"field":"b1","type":"quantitative"},"x2":{"field":"b2"},
"y":{"field":"p1","type":"quantitative","scale":{"domain":[0.30221,0.35853],"nice":false,"zero":false},"axis":null},"y2":{"field":"p2"}}},
{"data":{"name":"usdt"},"mark":{"type":"rect","fill":"#ffffff","stroke":"#e0e3eb","strokeWidth":1,"cornerRadius":4},"encoding":{
"x":{"field":"b1","type":"quantitative"},"x2":{"field":"b2"},
"y":{"field":"p1","type":"quantitative","scale":{"domain":[0.30221,0.35853],"nice":false,"zero":false},"axis":null},"y2":{"field":"p2"}}},
{"data":{"name":"priceTag"},"mark":{"type":"rect","fill":"#089981"},"encoding":{
"x":{"field":"b1","type":"quantitative"},"x2":{"field":"b2"},
"y":{"field":"p1","type":"quantitative","scale":{"domain":[0.30221,0.35853],"nice":false,"zero":false},"axis":null},"y2":{"field":"p2"}}},
{"data":{"name":"volTag"},"mark":{"type":"rect","fill":"#22ab94"},"encoding":{
"x":{"field":"b1","type":"quantitative"},"x2":{"field":"b2"},
"y":{"field":"p1","type":"quantitative","scale":{"domain":[0.30221,0.35853],"nice":false,"zero":false},"axis":null},"y2":{"field":"p2"}}},
{"data":{"name":"wm"},"mark":{"type":"text","font":"Liberation Serif","fontWeight":"bold","fontSize":38,"align":"left","baseline":"alphabetic","fill":"#ff1111","stroke":"#ff1111","strokeWidth":1.4},"encoding":{
"x":{"field":"b","type":"quantitative"},
"y":{"field":"p","type":"quantitative","scale":{"domain":[0.30221,0.35853],"nice":false,"zero":false},"axis":null},"text":{"field":"t"}}},
{"data":{"name":"bolt"},"mark":{"type":"point","shape":"circle","size":380,"filled":true,"fill":"#ffffff","stroke":"#9c27b0","strokeWidth":2,"opacity":1},"encoding":{
"x":{"field":"b","type":"quantitative"},
"y":{"field":"p","type":"quantitative","scale":{"domain":[0.30221,0.35853],"nice":false,"zero":false},"axis":null}}},
{"data":{"name":"bolt"},"mark":{"type":"point","shape":"M0.25,-1 L-0.55,0.15 L-0.08,0.15 L-0.25,1 L0.55,-0.2 L0.08,-0.2 Z","size":120,"filled":true,"fill":"#9c27b0","opacity":1},"encoding":{
"x":{"field":"b","type":"quantitative"},
"y":{"field":"p","type":"quantitative","scale":{"domain":[0.30221,0.35853],"nice":false,"zero":false},"axis":null}}},
{"data":{"name":"logo"},"mark":{"type":"point","shape":"M-1,-0.55 H-0.15 V0.55 H-0.55 V-0.1 H-1 Z M0.1,-0.55 H1 L0.45,0.55 H0 L0.4,-0.25 H0.1 Z","size":361,"filled":true,"fill":"#131722","opacity":1},"encoding":{
"x":{"field":"b","type":"quantitative"},
"y":{"field":"p","type":"quantitative","scale":{"domain":[0.30221,0.35853],"nice":false,"zero":false},"axis":null}}},
{"data":{"name":"darkText"},"mark":{"type":"text","font":"Noto Sans","fontSize":11.4,"align":"left","baseline":"middle","fill":"#3a3e4a"},"encoding":{
"x":{"field":"b","type":"quantitative"},
"y":{"field":"p","type":"quantitative","scale":{"domain":[0.30221,0.35853],"nice":false,"zero":false},"axis":null},"text":{"field":"t"}}},
{"data":{"name":"greenText"},"mark":{"type":"text","font":"Noto Sans","fontSize":11.4,"align":"left","baseline":"middle","fill":"#22ab94"},"encoding":{
"x":{"field":"b","type":"quantitative"},
"y":{"field":"p","type":"quantitative","scale":{"domain":[0.30221,0.35853],"nice":false,"zero":false},"axis":null},"text":{"field":"t"}}},
{"data":{"name":"whiteText"},"mark":{"type":"text","font":"Noto Sans","fontSize":11.5,"fontWeight":"bold","align":"left","baseline":"middle","fill":"#ffffff"},"encoding":{
"x":{"field":"b","type":"quantitative"},
"y":{"field":"p","type":"quantitative","scale":{"domain":[0.30221,0.35853],"nice":false,"zero":false},"axis":null},"text":{"field":"t"}}},
{"data":{"name":"timer"},"mark":{"type":"text","font":"Noto Sans","fontSize":11.5,"align":"left","baseline":"middle","fill":"#bfe5dd"},"encoding":{
"x":{"field":"b","type":"quantitative"},
"y":{"field":"p","type":"quantitative","scale":{"domain":[0.30221,0.35853],"nice":false,"zero":false},"axis":null},"text":{"field":"t"}}}
]}
